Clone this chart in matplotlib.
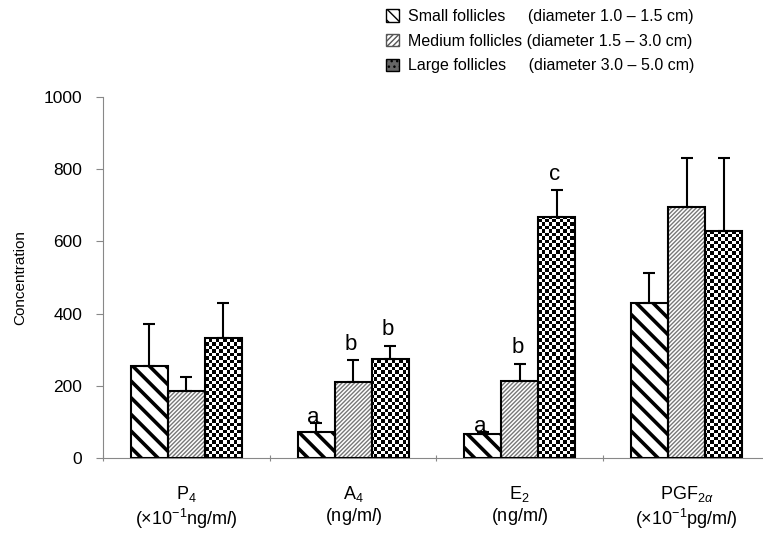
import numpy as np
import matplotlib
matplotlib.use('Agg')
import matplotlib.pyplot as plt
from matplotlib.patches import Patch

# data
categories = [r'P$_4$' + '\n' + r'(×10$^{-1}$ng/m$\it{l}$)',
              r'A$_4$' + '\n' + r'(ng/m$\it{l}$)',
              r'E$_2$' + '\n' + r'(ng/m$\it{l}$)',
              r'PGF$_{2\alpha}$' + '\n' + r'(×10$^{-1}$pg/m$\it{l}$)']
small = [255, 72, 65, 429]
small_err = [116, 25, 7, 83]
medium = [186, 210, 213, 695]
medium_err = [38, 61, 48, 136]
large = [332, 274, 668, 629]
large_err = [97, 36, 74, 202]
labels = ['Small follicles     (diameter 1.0 – 1.5 cm)',
          'Medium follicles (diameter 1.5 – 3.0 cm)',
          'Large follicles     (diameter 3.0 – 5.0 cm)']
# significance letters (series index, category index, letter)
letters = [(0, 1, 'a'), (1, 1, 'b'), (2, 1, 'b'),
           (0, 2, 'a'), (1, 2, 'b'), (2, 2, 'c')]

plt.rcParams['font.family'] = ['Liberation Sans', 'DejaVu Sans']
plt.rcParams['mathtext.fontset'] = 'custom'
plt.rcParams['mathtext.rm'] = 'Liberation Sans'
plt.rcParams['mathtext.it'] = 'Liberation Sans:italic'

fig = plt.figure(figsize=(7.63, 5.33), dpi=100)
ax = fig.add_axes([0.135, 0.141, 0.874, 0.677])

x = np.arange(len(small)) + 0.5
w = 0.222

# small follicles: thick black stripes
with plt.rc_context({'hatch.linewidth': 2.6}):
    ax.bar(x - w, small, w, facecolor='white', edgecolor='black',
           hatch='\\\\', linewidth=0, zorder=2)
ax.bar(x - w, small, w, fill=False, edgecolor='black', linewidth=1.5, zorder=3)

# medium follicles: fine grey stripes
with plt.rc_context({'hatch.linewidth': 1.0}):
    ax.bar(x, medium, w, facecolor='white', edgecolor='#777777',
           hatch='////////', linewidth=0, zorder=2)
ax.bar(x, medium, w, fill=False, edgecolor='black', linewidth=1.5, zorder=3)

# large follicles: checkerboard
b_large = ax.bar(x + w, large, w, facecolor='white', edgecolor='none', zorder=1)
ny, nx = 103, 190
ii, jj = np.indices((ny, nx))
checker = ((ii + jj) % 2).astype(float)
for rect in b_large:
    im = ax.imshow(checker, extent=(0, 4, 0, 1000), aspect='auto', cmap='gray_r',
                   interpolation='nearest', vmin=0, vmax=1, zorder=2)
    im.set_clip_path(rect)
ax.bar(x + w, large, w, fill=False, edgecolor='black', linewidth=1.5, zorder=3)

# error bars (upper only)
for off, vals, errs in [(-w, small, small_err), (0, medium, medium_err), (w, large, large_err)]:
    ax.errorbar(x + off, vals, yerr=[np.zeros(len(vals)), errs], fmt='none',
                ecolor='black', elinewidth=1.5, capsize=4, capthick=1.5, zorder=4)

series = [(small, small_err), (medium, medium_err), (large, large_err)]
for s, c, let in letters:
    vals, errs = series[s]
    top = vals[c] + errs[c]
    dy = -4 if let == 'a' else 4
    ax.annotate(let, (x[c] + (s - 1) * w - 0.015, top), xytext=(0, dy),
                textcoords='offset points', ha='center', va='bottom', fontsize=16)

ax.set_xlim(0, 4)
ax.set_ylim(0, 1000)
ax.set_yticks(range(0, 1001, 200))
ax.set_xticks([0, 1, 2, 3])
ax.set_xticklabels([])
ax.set_xticks(x, minor=True)
ax.set_xticklabels(categories, minor=True, fontsize=13, linespacing=1.15)
ax.tick_params(axis='x', which='minor', length=0, pad=19)
ax.tick_params(axis='x', which='major', length=5, color='#888888', direction='inout')
ax.tick_params(axis='y', length=5, color='#888888', labelsize=12.5, pad=10)
for sp in ['top', 'right']:
    ax.spines[sp].set_visible(False)
for sp in ['left', 'bottom']:
    ax.spines[sp].set_color('#888888')
ax.set_ylabel('Concentration', fontsize=11, labelpad=12)

handles = [Patch(facecolor='white', edgecolor='black', hatch='\\\\\\'),
           Patch(facecolor='white', edgecolor='#555555', hatch='//////'),
           Patch(facecolor='#666666', edgecolor='black', hatch='...')]
leg = fig.legend(handles, labels, loc='upper left', bbox_to_anchor=(0.487, 1.01),
                 frameon=False, fontsize=11.5, handlelength=0.8, handleheight=0.8,
                 handletextpad=0.6, labelspacing=0.6)

fig.savefig('out.png', dpi=100)
